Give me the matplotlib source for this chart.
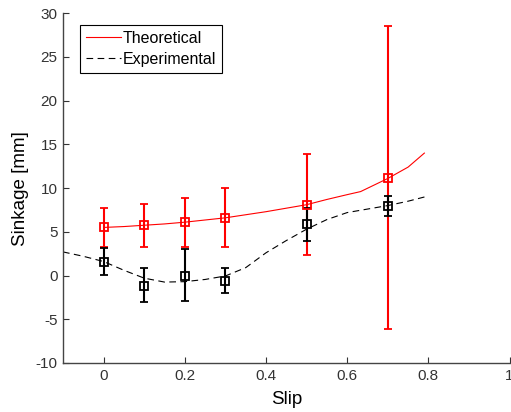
import matplotlib
matplotlib.use("Agg")
import matplotlib.pyplot as plt
import numpy as np

plt.rcParams['font.family'] = ['Liberation Sans', 'DejaVu Sans']
plt.rcParams['axes.unicode_minus'] = False

# Theoretical curve
theo_x = [0.0, 0.05, 0.1, 0.15, 0.2, 0.25, 0.3, 0.35, 0.4, 0.45, 0.5, 0.55, 0.6, 0.633, 0.7, 0.75, 0.79]
theo_y = [5.5, 5.6, 5.75, 5.9, 6.1, 6.35, 6.6, 6.95, 7.3, 7.7, 8.1, 8.7, 9.25, 9.6, 11.1, 12.4, 14.0]

# Experimental curve
exp_x = [-0.1, -0.05, 0.0, 0.05, 0.1, 0.15, 0.2, 0.25, 0.3, 0.35, 0.4, 0.45, 0.5, 0.55, 0.6, 0.65, 0.7, 0.75, 0.8]
exp_y = [2.7, 2.2, 1.6, 0.6, -0.3, -0.75, -0.7, -0.45, -0.05, 0.9, 2.6, 4.0, 5.3, 6.4, 7.2, 7.6, 8.0, 8.5, 9.1]

# Measurement points with error bars
pts_x = [0.0, 0.1, 0.2, 0.3, 0.5, 0.7]
theo_pts = [5.5, 5.75, 6.1, 6.6, 8.1, 11.2]
theo_lo = [3.3, 3.3, 3.3, 3.3, 2.4, -6.1]
theo_hi = [7.7, 8.2, 8.9, 10.0, 13.9, 28.5]
exp_pts = [1.6, -1.2, 0.0, -0.6, 5.9, 8.0]
exp_lo = [0.1, -3.05, -2.9, -2.0, 4.0, 6.85]
exp_hi = [3.2, 0.85, 3.0, 0.85, 7.7, 9.1]

fig = plt.figure(figsize=(5.11, 4.12), dpi=100)
ax = fig.add_axes([0.1233, 0.119, 0.874, 0.849])

ax.plot(theo_x, theo_y, color='red', lw=0.8, label='Theoretical')
ax.plot(exp_x, exp_y, color='black', lw=0.8, dashes=(6, 4), label='Experimental')

t = np.array(theo_pts)
ax.errorbar(pts_x, theo_pts, yerr=[t - np.array(theo_lo), np.array(theo_hi) - t],
            fmt='s', color='red', mfc='none', mec='red', ms=6, mew=1.3,
            elinewidth=1.5, capsize=3, capthick=1.5)
e = np.array(exp_pts)
ax.errorbar(pts_x, exp_pts, yerr=[e - np.array(exp_lo), np.array(exp_hi) - e],
            fmt='s', color='black', mfc='none', mec='black', ms=6, mew=1.3,
            elinewidth=1.5, capsize=3, capthick=1.5)

ax.set_xlim(-0.1, 1.0)
ax.set_ylim(-10, 30)
ax.set_xticks([0, 0.2, 0.4, 0.6, 0.8, 1])
ax.set_xticklabels(['0', '0.2', '0.4', '0.6', '0.8', '1'])
ax.set_yticks(range(-10, 31, 5))
ax.tick_params(direction='in', length=4, width=0.8, labelsize=11, colors='#333333', pad=4)
for s in ['top', 'right']:
    ax.spines[s].set_visible(False)
for s in ['left', 'bottom']:
    ax.spines[s].set_color('#444444')
    ax.spines[s].set_linewidth(1.0)

ax.set_xlabel('Slip', fontsize=13.5, labelpad=6)
ax.set_ylabel('Sinkage [mm]', fontsize=13.5, labelpad=5)

handles = ax.get_lines()[:2]
leg = ax.legend(handles=handles, labels=['Theoretical', 'Experimental'],
                loc='upper left', bbox_to_anchor=(0.038, 0.966), fontsize=11.5,
                fancybox=False, framealpha=1, edgecolor='black',
                handlelength=2.2, handletextpad=0.15, borderpad=0.35, labelspacing=0.4,
                borderaxespad=0)
leg.get_frame().set_linewidth(0.8)

fig.savefig('out.png', dpi=100)
